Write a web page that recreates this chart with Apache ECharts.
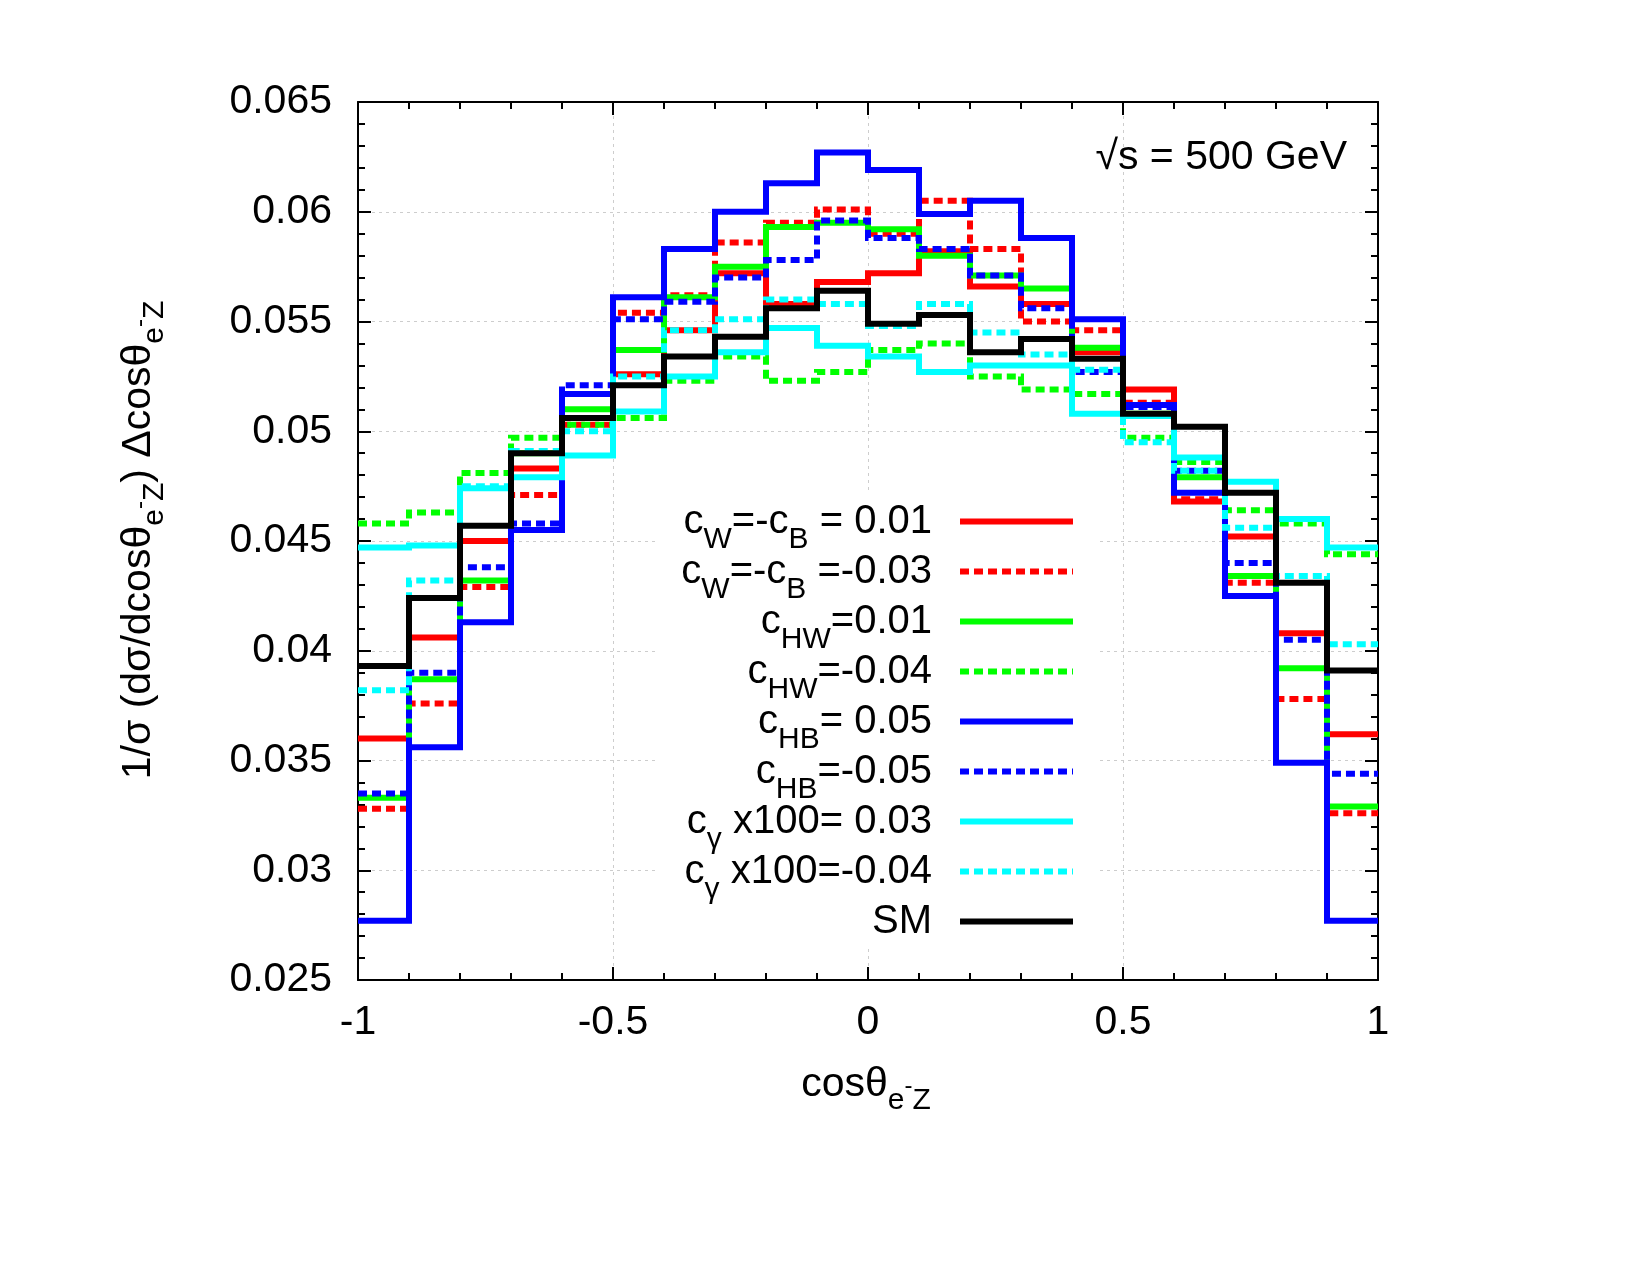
<!DOCTYPE html>
<html><head><meta charset="utf-8">
<script src="https://cdn.jsdelivr.net/npm/echarts@6/dist/echarts.min.js"></script>
<style>html,body{margin:0;padding:0;background:#fff}#c{width:1650px;height:1275px}</style>
</head><body><div id="c"></div>
<script>
// bin edges of cos(theta)
const binEdges = [-1,-0.9,-0.8,-0.7,-0.6,-0.5,-0.4,-0.3,-0.2,-0.1,0,0.1,0.2,0.3,0.4,0.5,0.6,0.7,0.8,0.9,1];
// per-bin values (20 bins)
const cwPos   = [0.0360,0.0406,0.0450,0.0483,0.0506,0.0526,0.0546,0.0572,0.0558,0.0568,0.0572,0.0582,0.0566,0.0558,0.0536,0.0519,0.0468,0.0452,0.0408,0.0362];
const cwNeg   = [0.0328,0.0376,0.0429,0.0471,0.0503,0.0554,0.0562,0.0586,0.0595,0.0601,0.0590,0.0605,0.0583,0.0550,0.0546,0.0513,0.0469,0.0431,0.0378,0.0326];
const chwPos  = [0.0333,0.0387,0.0432,0.0490,0.0510,0.0537,0.0561,0.0575,0.0593,0.0595,0.0592,0.0580,0.0571,0.0565,0.0538,0.0508,0.0479,0.0434,0.0392,0.0329];
const chwNeg  = [0.0458,0.0463,0.0481,0.0497,0.0503,0.0506,0.0523,0.0534,0.0523,0.0527,0.0537,0.0540,0.0525,0.0519,0.0517,0.0497,0.0486,0.0464,0.0458,0.0444];
const chbPos  = [0.0277,0.0356,0.0413,0.0455,0.0517,0.0561,0.0583,0.0600,0.0613,0.0627,0.0619,0.0599,0.0605,0.0588,0.0551,0.0512,0.0472,0.0425,0.0349,0.0277];
const chbNeg  = [0.0335,0.0390,0.0438,0.0458,0.0521,0.0551,0.0559,0.0570,0.0578,0.0596,0.0588,0.0583,0.0571,0.0556,0.0527,0.0511,0.0482,0.0440,0.0405,0.0344];
const cgamPos = [0.0447,0.0448,0.0474,0.0479,0.0489,0.0509,0.0525,0.0536,0.0547,0.0539,0.0534,0.0527,0.0530,0.0530,0.0508,0.0507,0.0488,0.0477,0.0460,0.0447];
const cgamNeg = [0.0382,0.0432,0.0475,0.0491,0.0500,0.0525,0.0546,0.0551,0.0560,0.0558,0.0548,0.0558,0.0545,0.0535,0.0528,0.0495,0.0482,0.0456,0.0434,0.0403];
const smVals  = [0.0393,0.0424,0.0457,0.0490,0.0506,0.0521,0.0534,0.0543,0.0556,0.0564,0.0549,0.0553,0.0536,0.0542,0.0533,0.0508,0.0502,0.0472,0.0431,0.0391];

const xTicks = [-1,-0.5,0,0.5,1];
const yTicks = [0.025,0.03,0.035,0.04,0.045,0.05,0.055,0.06,0.065];

const seriesNames = ['cW=-cB = 0.01','cW=-cB =-0.03','cHW=0.01','cHW=-0.04','cHB= 0.05','cHB=-0.05','cgamma x100= 0.03','cgamma x100=-0.04','SM'];
const legendRich = [
  '{m|c}{s|W}{m|=-c}{s|B}{m| = 0.01}',
  '{m|c}{s|W}{m|=-c}{s|B}{m| =-0.03}',
  '{m|c}{s|HW}{m|=0.01}',
  '{m|c}{s|HW}{m|=-0.04}',
  '{m|c}{s|HB}{m|= 0.05}',
  '{m|c}{s|HB}{m|=-0.05}',
  '{m|c}{s|γ}{m| x100= 0.03}',
  '{m|c}{s|γ}{m| x100=-0.04}',
  '{m|SM}'
];
const seriesVals = [cwPos,cwNeg,chwPos,chwNeg,chbPos,chbNeg,cgamPos,cgamNeg,smVals];
const colors = ['#ff0000','#ff0000','#00ff00','#00ff00','#0000ff','#0000ff','#00ffff','#00ffff','#000000'];
const dashed = [false,true,false,true,false,true,false,true,false];

const FONT = '"Liberation Sans", Arial, Helvetica, sans-serif';
const DASH = [9,5];
const LW = 6;

function stepData(vals){
  return binEdges.map((e,i)=>[e, vals[Math.min(i, vals.length-1)]]);
}

const G = {left:358, top:102, width:1020, height:878};

const series = seriesVals.map((v,i)=>({
  name: seriesNames[i], type:'line', step:'end', data: stepData(v),
  showSymbol:false, symbol:'none', z: 3+i, animation:false, clip:false,
  lineStyle:{color:colors[i], width:LW, type: dashed[i]?DASH:'solid', cap:'butt', join:'miter'}
}));

const axisCommon = {
  axisLine:{show:true, onZero:false, lineStyle:{color:'#000', width:2}},
  axisTick:{show:true, inside:true, length:13, lineStyle:{color:'#000', width:2}},
  minorTick:{show:true, splitNumber:5, length:7, lineStyle:{color:'#000', width:2}},
};

// legend (gnuplot style key) drawn as graphic
const keyTextX = 932, keyLineX1 = 960, keyLineX2 = 1073, keyY0 = 521.5, keyDY = 50;
const graphics = [
  {type:'rect', z:1, silent:true, shape:{x:655, y:494, width:443, height:452}, style:{fill:'#fff'}}
];
legendRich.forEach((t,i)=>{
  const y = keyY0 + keyDY*i;
  graphics.push({type:'text', z:20, x:keyTextX, y:y-20, style:{
    text:t, align:'right', verticalAlign:'top', fill:'#000',
    rich:{
      m:{fontSize:40, fontFamily:FONT, fill:'#000', lineHeight:40, verticalAlign:'top'},
      s:{fontSize:30, fontFamily:FONT, fill:'#000', lineHeight:30, padding:[23,0,0,0], verticalAlign:'top'}
    }}});
  graphics.push({type:'line', z:20, shape:{x1:keyLineX1, y1:y, x2:keyLineX2, y2:y},
    style:{stroke:colors[i], lineWidth:LW, lineDash: dashed[i]?DASH:null, lineCap:'butt'}});
});
// energy label
graphics.push({type:'text', z:20, x:1347, y:158, style:{text:'√s = 500 GeV', align:'right', verticalAlign:'middle',
  font:'41px '+FONT, fill:'#000'}});
// axis titles
const titleRich = {
  m:{fontSize:41, fontFamily:FONT, fill:'#000', lineHeight:41, verticalAlign:'top'},
  s:{fontSize:30, fontFamily:FONT, fill:'#000', lineHeight:30, padding:[22,0,0,0], verticalAlign:'top'},
  p:{fontSize:24, fontFamily:FONT, fill:'#000', lineHeight:24, padding:[10,0,0,0], verticalAlign:'top'}
};
graphics.push({type:'text', z:20, x:866, y:1064, style:{text:'{m|cosθ}{s|e}{p|-}{s|Z}', align:'center', verticalAlign:'top', rich:titleRich}});
graphics.push({type:'text', z:20, x:118, y:540, rotation:Math.PI/2, style:{text:'{m|1/σ (dσ/dcosθ}{s|e}{p|-}{s|Z}{m|) Δcosθ}{s|e}{p|-}{s|Z}', align:'center', verticalAlign:'top', rich:titleRich}});

const option = {
  backgroundColor:'#fff',
  animation:false,
  grid: G,
  xAxis:[
    Object.assign({type:'value', min:-1, max:1, interval:0.5, position:'bottom',
      axisLabel:{show:true, margin:22, fontSize:41, fontFamily:FONT, color:'#000', showMinLabel:true, showMaxLabel:true,
        formatter:v=>String(+(+v).toFixed(1))},
      splitLine:{show:true, lineStyle:{color:'#cdcdcd', width:1, type:[3,4]}}}, axisCommon),
    Object.assign({type:'value', min:-1, max:1, interval:0.5, position:'top',
      axisLabel:{show:false}, splitLine:{show:false}}, axisCommon)
  ],
  yAxis:[
    Object.assign({type:'value', min:0.025, max:0.065, interval:0.005, position:'left',
      axisLabel:{show:true, margin:26, fontSize:41, fontFamily:FONT, color:'#000', showMinLabel:true, showMaxLabel:true,
        formatter:v=>String(+(+v).toFixed(3))},
      splitLine:{show:true, lineStyle:{color:'#cdcdcd', width:1, type:[3,4]}}}, axisCommon),
    Object.assign({type:'value', min:0.025, max:0.065, interval:0.005, position:'right',
      axisLabel:{show:false}, splitLine:{show:false}}, axisCommon)
  ],
  series: series,
  graphic: {elements: graphics}
};
const chart = echarts.init(document.getElementById('c'), null, {renderer:'canvas'});
chart.setOption(option);
</script></body></html>
